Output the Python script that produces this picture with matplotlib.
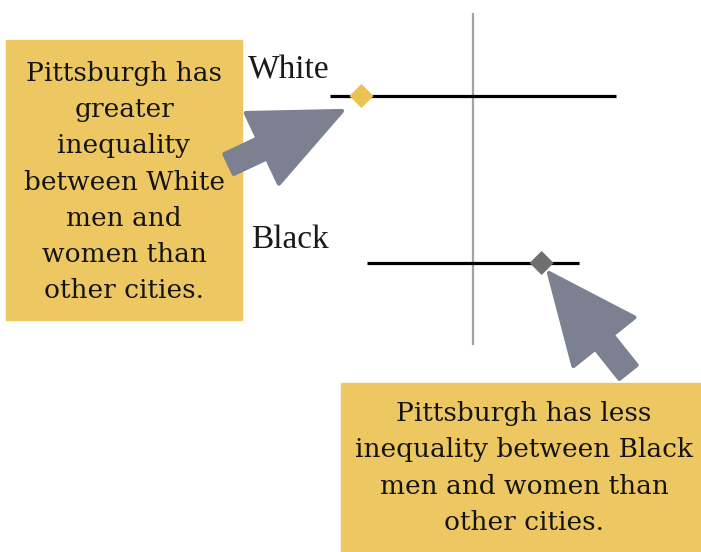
import matplotlib
matplotlib.use("Agg")
import matplotlib.pyplot as plt
import matplotlib.patches as mpatches

# groups and values (gap relative to other cities, arbitrary units, 0 = reference)
groups = ["White", "Black"]
range_low = [-1.0, -0.74]
range_high = [1.0, 0.74]
pittsburgh = [-0.78, 0.48]
marker_colors = ["#E9C452", "#6F6F6F"]

note_white = "Pittsburgh has\ngreater\ninequality\nbetween White\nmen and\nwomen than\nother cities."
note_black = "Pittsburgh has less\ninequality between Black\nmen and women than\nother cities."

box_color = "#EDC862"
arrow_color = "#7B8190"

W, H = 701, 552
fig = plt.figure(figsize=(W / 100, H / 100), dpi=100)

# chart axes spanning the whole figure; 143 px per unit in x, 167 px per row in y
ax = fig.add_axes([0, 0, 1, 1])
ax.set_xlim(-473 / 143, (W - 473) / 143)
ax.set_ylim((H - 96) / 167, -96 / 167)
ax.axis("off")

ax.vlines(0, -0.497, 1.49, color="#A3A3A3", linewidth=1.6, zorder=1)
for i, g in enumerate(groups):
    ax.hlines(i, range_low[i], range_high[i], color="black", linewidth=2.3, zorder=2)
    ax.scatter(pittsburgh[i], i, marker="D", s=150, color=marker_colors[i],
               edgecolors="none", zorder=3)

ax.text(-225 / 143, -18 / 167, "White", family="Liberation Serif", fontsize=24,
        ha="left", va="baseline", color="#1a1a1a")
ax.text(-222 / 143, 1 - 15 / 167, "Black", family="Liberation Serif", fontsize=24,
        ha="left", va="baseline", color="#1a1a1a")

# overlay in pixel coordinates for callout boxes and arrows
ov = fig.add_axes([0, 0, 1, 1])
ov.set_xlim(0, W)
ov.set_ylim(H, 0)
ov.axis("off")
ov.patch.set_alpha(0)

ov.add_patch(mpatches.Rectangle((6, 40), 236, 280, color=box_color, zorder=1))
ov.add_patch(mpatches.Rectangle((341, 383), 360, 169, color=box_color, zorder=1))

ov.text(124, 182, note_white, ha="center", va="center", family="DejaVu Serif",
        fontsize=19, linespacing=1.56, color="#141414", zorder=2)
ov.text(524, 468, note_black, ha="center", va="center", family="DejaVu Serif",
        fontsize=19, linespacing=1.56, color="#141414", zorder=2)

for (x0, y0, x1, y1) in [(229, 164, 342, 111), (628, 372, 549, 273)]:
    ov.add_patch(mpatches.FancyArrow(x0, y0, x1 - x0, y1 - y0, width=22,
                                     head_width=78, head_length=88,
                                     length_includes_head=True,
                                     color=arrow_color, linewidth=3,
                                     joinstyle="round", zorder=3))

fig.savefig("out.png", dpi=100)
